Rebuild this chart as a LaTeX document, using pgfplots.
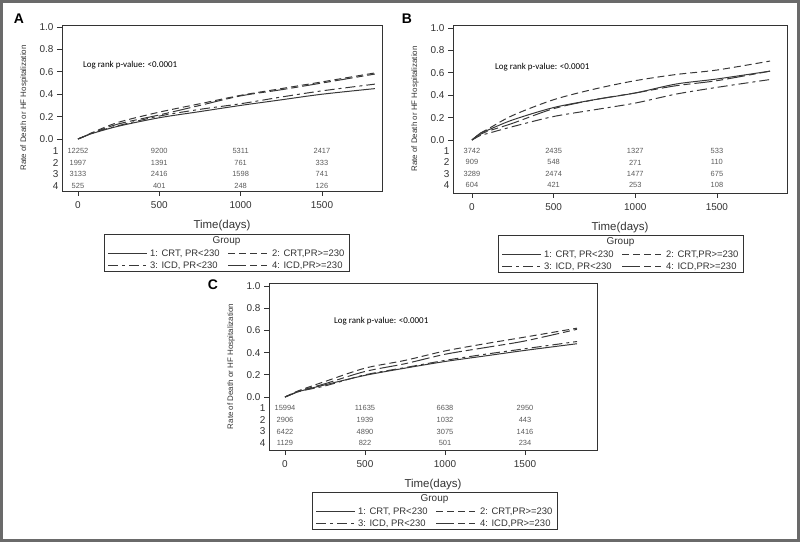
\documentclass[border=0pt]{standalone}
\usepackage{pgfplots}
\pgfplotsset{compat=1.18}
\usepackage{fontspec}
\setmainfont{Liberation Sans}
\newfontfamily\calibri{Carlito}

\definecolor{axgray}{HTML}{333333}
\definecolor{crvgray}{HTML}{383838}
\definecolor{riskgray}{HTML}{5A5A5A}
\definecolor{framegray}{HTML}{6A6A6A}

\tikzset{
  g1/.style={crvgray, line width=1bp, solid},
  g2/.style={crvgray, line width=1bp, dash pattern=on 7bp off 4bp},
  g3/.style={crvgray, line width=1bp, dash pattern=on 10bp off 4bp on 3bp off 4bp},
  g4/.style={crvgray, line width=1bp, dash pattern=on 18bp off 4bp on 7bp off 4bp},
}

\pgfplotsset{
  kmaxis/.style={
    scale only axis, anchor=south west,
    axis line style={axgray, line width=0.8bp},
    tick pos=left, tick align=outside,
    major tick length=5bp,
    tick style={axgray, line width=0.8bp},
    xtick={0,500,1000,1500},
    ytick={0,0.2,0.4,0.6,0.8,1.0},
    /pgf/number format/assume math mode=true,
    /pgf/number format/1000 sep={},
    yticklabel style={/pgf/number format/.cd, fixed, fixed zerofill, precision=1},
    tick label style={font=\fontsize{10}{11}\selectfont, text=axgray},
    xticklabel style={yshift=-2bp},
    extra y tick style={major tick length=0pt},
    xlabel={Time(days)},
    xlabel style={font=\fontsize{11.5}{12}\selectfont, text=axgray, yshift=-5bp},
    ylabel={Rate of Death or HF Hospitalization},
    ylabel style={font=\fontsize{8}{9}\selectfont, text=axgray},
  },
  risk/.style={draw=none, mark=none, nodes near coords, point meta=explicit symbolic,
    nodes near coords style={anchor=center, font=\fontsize{7.5}{8}\selectfont, text=riskgray}},
}

\newcommand{\logrank}{{\calibri\fontsize{9}{10}\selectfont Log rank p-value: <0.0001}}

% legend box, #1 = left, #2 = top
\newcommand{\grouplegend}[2]{%
  \begin{scope}[shift={(#1,#2)}, every node/.style={font=\fontsize{9.5}{10}\selectfont, text=axgray, inner sep=0pt}]
    \draw[axgray, line width=0.8bp] (0,0) rectangle (245bp,-37bp);
    \node[font=\fontsize{10}{11}\selectfont] at (122.5bp,-7.5bp) {Group};
    \draw[g1] (4bp,-20bp) -- (43bp,-20bp);
    \node[anchor=west] at (46bp,-20bp) {1: CRT, PR<230};
    \draw[g2] (124bp,-20bp) -- (163bp,-20bp);
    \node[anchor=west] at (168bp,-20bp) {2: CRT,PR>=230};
    \draw[g3] (4bp,-32bp) -- (43bp,-32bp);
    \node[anchor=west] at (46bp,-32bp) {3: ICD, PR<230};
    \draw[g4] (124bp,-32bp) -- (163bp,-32bp);
    \node[anchor=west] at (168bp,-32bp) {4: ICD,PR>=230};
  \end{scope}}

\begin{document}
\begin{tikzpicture}
\useasboundingbox (0,0) rectangle (800bp,542bp);
\draw[framegray, line width=3bp] (1.5bp,1.5bp) rectangle (798.5bp,540.5bp);

% ---------------- A
\begin{axis}[kmaxis, at={(62bp,351bp)}, width=320bp, height=166bp,
  xmin=-98, xmax=1869, ymin=-0.464, ymax=1.018,
  extra y ticks={-0.107,-0.211,-0.313,-0.42}, extra y tick labels={1,2,3,4}]
\addplot[g1, smooth] coordinates {(0,0) (50,0.03) (100,0.055) (250,0.115) (500,0.19) (750,0.245) (1000,0.30) (1250,0.35) (1500,0.40) (1825,0.45)};
\addplot[g2, smooth] coordinates {(0,0) (50,0.03) (100,0.065) (250,0.15) (500,0.24) (750,0.315) (1000,0.39) (1250,0.45) (1500,0.51) (1825,0.59)};
\addplot[g3, smooth] coordinates {(0,0) (50,0.03) (100,0.06) (250,0.12) (500,0.205) (750,0.265) (1000,0.315) (1250,0.375) (1500,0.43) (1825,0.49)};
\addplot[g4, smooth] coordinates {(0,0) (50,0.03) (100,0.06) (250,0.135) (500,0.215) (750,0.30) (1000,0.385) (1250,0.44) (1500,0.50) (1825,0.58)};
\addplot[risk] table[meta=n] {
x y n
0 -0.107 12252
500 -0.107 9200
1000 -0.107 5311
1500 -0.107 2417
0 -0.211 1997
500 -0.211 1391
1000 -0.211 761
1500 -0.211 333
0 -0.313 3133
500 -0.313 2416
1000 -0.313 1598
1500 -0.313 741
0 -0.42 525
500 -0.42 401
1000 -0.42 248
1500 -0.42 126
};
\node[anchor=west, inner sep=0pt] at (axis cs:30,0.66) {\logrank};
\end{axis}

% ---------------- B
\begin{axis}[kmaxis, at={(453bp,349bp)}, width=334bp, height=168bp,
  xmin=-116, xmax=1929, ymin=-0.473, ymax=1.027,
  extra y ticks={-0.095,-0.2,-0.301,-0.405}, extra y tick labels={1,2,3,4}]
\addplot[g1, smooth] coordinates {(0,0) (25,0.03) (50,0.06) (100,0.09) (250,0.18) (500,0.29) (750,0.36) (1000,0.42) (1250,0.50) (1500,0.545) (1825,0.615)};
\addplot[g2, smooth] coordinates {(0,0) (25,0.03) (50,0.06) (100,0.10) (250,0.22) (500,0.36) (750,0.455) (1000,0.53) (1250,0.585) (1500,0.625) (1825,0.705)};
\addplot[g3, smooth] coordinates {(0,0) (25,0.02) (50,0.04) (100,0.06) (250,0.12) (500,0.21) (750,0.27) (1000,0.33) (1250,0.41) (1500,0.47) (1825,0.54)};
\addplot[g4, smooth] coordinates {(0,0) (25,0.03) (50,0.05) (100,0.08) (250,0.15) (500,0.28) (750,0.36) (1000,0.42) (1250,0.485) (1500,0.53) (1825,0.615)};
\addplot[risk] table[meta=n] {
x y n
0 -0.095 3742
500 -0.095 2435
1000 -0.095 1327
1500 -0.095 533
0 -0.2 909
500 -0.2 548
1000 -0.2 271
1500 -0.2 110
0 -0.301 3289
500 -0.301 2474
1000 -0.301 1477
1500 -0.301 675
0 -0.405 604
500 -0.405 421
1000 -0.405 253
1500 -0.405 108
};
\node[anchor=west, inner sep=0pt] at (axis cs:141,0.65) {\logrank};
\end{axis}

% ---------------- C
\begin{axis}[kmaxis, at={(269bp,92bp)}, width=328bp, height=167bp,
  xmin=-100, xmax=1950, ymin=-0.477, ymax=1.027,
  extra y ticks={-0.1,-0.207,-0.311,-0.416}, extra y tick labels={1,2,3,4}]
\addplot[g1, smooth] coordinates {(0,0) (50,0.03) (100,0.055) (250,0.11) (500,0.195) (750,0.26) (1000,0.32) (1250,0.37) (1500,0.42) (1825,0.48)};
\addplot[g2, smooth] coordinates {(0,0) (50,0.035) (100,0.065) (250,0.14) (500,0.26) (750,0.33) (1000,0.415) (1250,0.48) (1500,0.54) (1825,0.62)};
\addplot[g3, smooth] coordinates {(0,0) (50,0.03) (100,0.055) (250,0.10) (500,0.20) (750,0.265) (1000,0.33) (1250,0.385) (1500,0.435) (1825,0.50)};
\addplot[g4, smooth] coordinates {(0,0) (50,0.03) (100,0.06) (250,0.12) (500,0.23) (750,0.30) (1000,0.385) (1250,0.445) (1500,0.505) (1825,0.61)};
\addplot[risk] table[meta=n] {
x y n
0 -0.1 15994
500 -0.1 11635
1000 -0.1 6638
1500 -0.1 2950
0 -0.207 2906
500 -0.207 1939
1000 -0.207 1032
1500 -0.207 443
0 -0.311 6422
500 -0.311 4890
1000 -0.311 3075
1500 -0.311 1416
0 -0.416 1129
500 -0.416 822
1000 -0.416 501
1500 -0.416 234
};
\node[anchor=west, inner sep=0pt] at (axis cs:306,0.685) {\logrank};
\end{axis}

% panel letters
\node[font=\bfseries\fontsize{14}{14}\selectfont] at (19bp,523bp) {A};
\node[font=\bfseries\fontsize{14}{14}\selectfont] at (407bp,523bp) {B};
\node[font=\bfseries\fontsize{14}{14}\selectfont] at (213bp,257bp) {C};

% legends
\grouplegend{104bp}{308bp}
\grouplegend{498bp}{307bp}
\grouplegend{312bp}{50bp}
\end{tikzpicture}
\end{document}
